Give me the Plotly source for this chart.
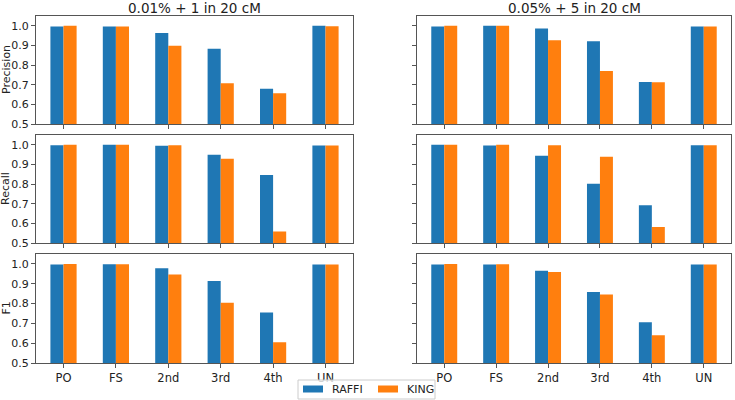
import plotly.graph_objects as go

categories = ["PO", "FS", "2nd", "3rd", "4th", "UN"]
panel_titles = ["0.01% + 1 in 20 cM", "0.05% + 5 in 20 cM"]
metrics = ["Precision", "Recall", "F1"]
series_names = ["RAFFI", "KING"]
tick_vals = [0.5, 0.6, 0.7, 0.8, 0.9, 1.0]
tick_text = ["0.5", "0.6", "0.7", "0.8", "0.9", "1.0"]

# left column (0.01% + 1 in 20 cM)
raffi_precision_a = [0.997, 0.997, 0.963, 0.883, 0.679, 1.000]
king_precision_a = [1.000, 0.997, 0.898, 0.707, 0.656, 0.998]
raffi_recall_a = [0.998, 1.000, 0.995, 0.949, 0.846, 0.997]
king_recall_a = [1.000, 1.000, 0.998, 0.929, 0.558, 0.997]
raffi_f1_a = [0.997, 0.998, 0.978, 0.914, 0.755, 0.997]
king_f1_a = [1.000, 0.998, 0.946, 0.804, 0.605, 0.997]

# right column (0.05% + 5 in 20 cM)
raffi_precision_b = [0.997, 1.000, 0.986, 0.922, 0.714, 0.997]
king_precision_b = [1.000, 1.000, 0.927, 0.770, 0.712, 0.997]
raffi_recall_b = [1.000, 0.997, 0.944, 0.802, 0.692, 0.998]
king_recall_b = [1.000, 1.000, 0.998, 0.939, 0.581, 0.998]
raffi_f1_b = [0.997, 0.997, 0.965, 0.858, 0.706, 0.997]
king_f1_b = [1.000, 0.998, 0.959, 0.846, 0.640, 0.997]

data = [
    [(raffi_precision_a, king_precision_a), (raffi_precision_b, king_precision_b)],
    [(raffi_recall_a, king_recall_a), (raffi_recall_b, king_recall_b)],
    [(raffi_f1_a, king_f1_a), (raffi_f1_b, king_f1_b)],
]

W, H = 735, 400
BLUE, ORANGE = "#1f77b4", "#ff7f0e"
LINE = "#555555"
FONT = "DejaVu Sans"

col_px = [(36, 353), (417, 731)]
row_px = [(16, 124), (135, 243), (254, 363)]

fig = go.Figure()
layout = {}
n = 0
for r in range(3):
    for c in range(2):
        n += 1
        xa = "x" if n == 1 else f"x{n}"
        ya = "y" if n == 1 else f"y{n}"
        raffi, king = data[r][c]
        fig.add_trace(go.Bar(x=categories, y=raffi, name=series_names[0], marker_color=BLUE,
                             marker_line_width=0, xaxis=xa, yaxis=ya,
                             showlegend=False, legendgroup="RAFFI", offsetgroup="a"))
        fig.add_trace(go.Bar(x=categories, y=king, name=series_names[1], marker_color=ORANGE,
                             marker_line_width=0, xaxis=xa, yaxis=ya,
                             showlegend=False, legendgroup="KING", offsetgroup="b"))
        x0, x1 = col_px[c]
        y0, y1 = row_px[r]
        layout["xaxis" if n == 1 else f"xaxis{n}"] = dict(
            domain=[x0 / W, x1 / W], anchor=ya, range=[-0.525, 5.525],
            type="category", categoryorder="array", categoryarray=categories,
            showline=True, mirror=True, linecolor=LINE, linewidth=1,
            ticks="outside", ticklen=4, tickcolor=LINE, automargin=False,
            showticklabels=(r == 2), showgrid=False, zeroline=False,
            tickfont=dict(family=FONT, size=11.5, color="#222"),
        )
        layout["yaxis" if n == 1 else f"yaxis{n}"] = dict(
            domain=[1 - y1 / H, 1 - y0 / H], anchor=xa, range=[0.5, 1.05],
            tickvals=tick_vals, ticktext=tick_text,
            showline=True, mirror=True, linecolor=LINE, linewidth=1,
            ticks="outside", ticklen=4, tickcolor=LINE, automargin=False,
            showticklabels=(c == 0), showgrid=False, zeroline=False,
            tickfont=dict(family=FONT, size=11, color="#222"),
        )

annotations = []
for c in range(2):
    x0, x1 = col_px[c]
    annotations.append(dict(text=panel_titles[c], x=(x0 + x1) / 2 / W, y=1 - 8 / H,
                            xref="paper", yref="paper", showarrow=False,
                            font=dict(family=FONT, size=13.5, color="#222"),
                            xanchor="center", yanchor="middle"))
for r in range(3):
    y0, y1 = row_px[r]
    annotations.append(dict(text=metrics[r], x=6 / W, y=1 - (y0 + y1) / 2 / H,
                            xref="paper", yref="paper", showarrow=False, textangle=-90,
                            font=dict(family=FONT, size=11, color="#222"),
                            xanchor="center", yanchor="middle"))

# legend (box, swatches, labels)
def px_x(p):
    return p / W

def px_y(p):
    return 1 - p / H

shapes = [dict(type="rect", xref="paper", yref="paper",
               x0=px_x(298), x1=px_x(435), y0=px_y(399), y1=px_y(380),
               line=dict(color="#cccccc", width=1), fillcolor="rgba(255,255,255,0.8)",
               layer="above")]
legend_items = [(series_names[0], BLUE, 303), (series_names[1], ORANGE, 378)]
for name, color, sx in legend_items:
    shapes.append(dict(type="rect", xref="paper", yref="paper",
                       x0=px_x(sx), x1=px_x(sx + 20), y0=px_y(392.5), y1=px_y(385.5),
                       line=dict(width=0), fillcolor=color, layer="above"))
    annotations.append(dict(text=name, x=px_x(sx + 27), y=px_y(389.5),
                            xref="paper", yref="paper", showarrow=False,
                            font=dict(family=FONT, size=11, color="#222"),
                            xanchor="left", yanchor="middle"))

fig.update_layout(
    **layout,
    width=W, height=H,
    margin=dict(l=0, r=0, t=0, b=0, pad=0, autoexpand=False),
    plot_bgcolor="white", paper_bgcolor="white",
    barmode="group", bargap=0.5, bargroupgap=0,
    annotations=annotations, shapes=shapes,
    showlegend=False,
)

fig.write_html("out.html", config={"displayModeBar": False},
               post_script="document.body.style.margin='0';")
